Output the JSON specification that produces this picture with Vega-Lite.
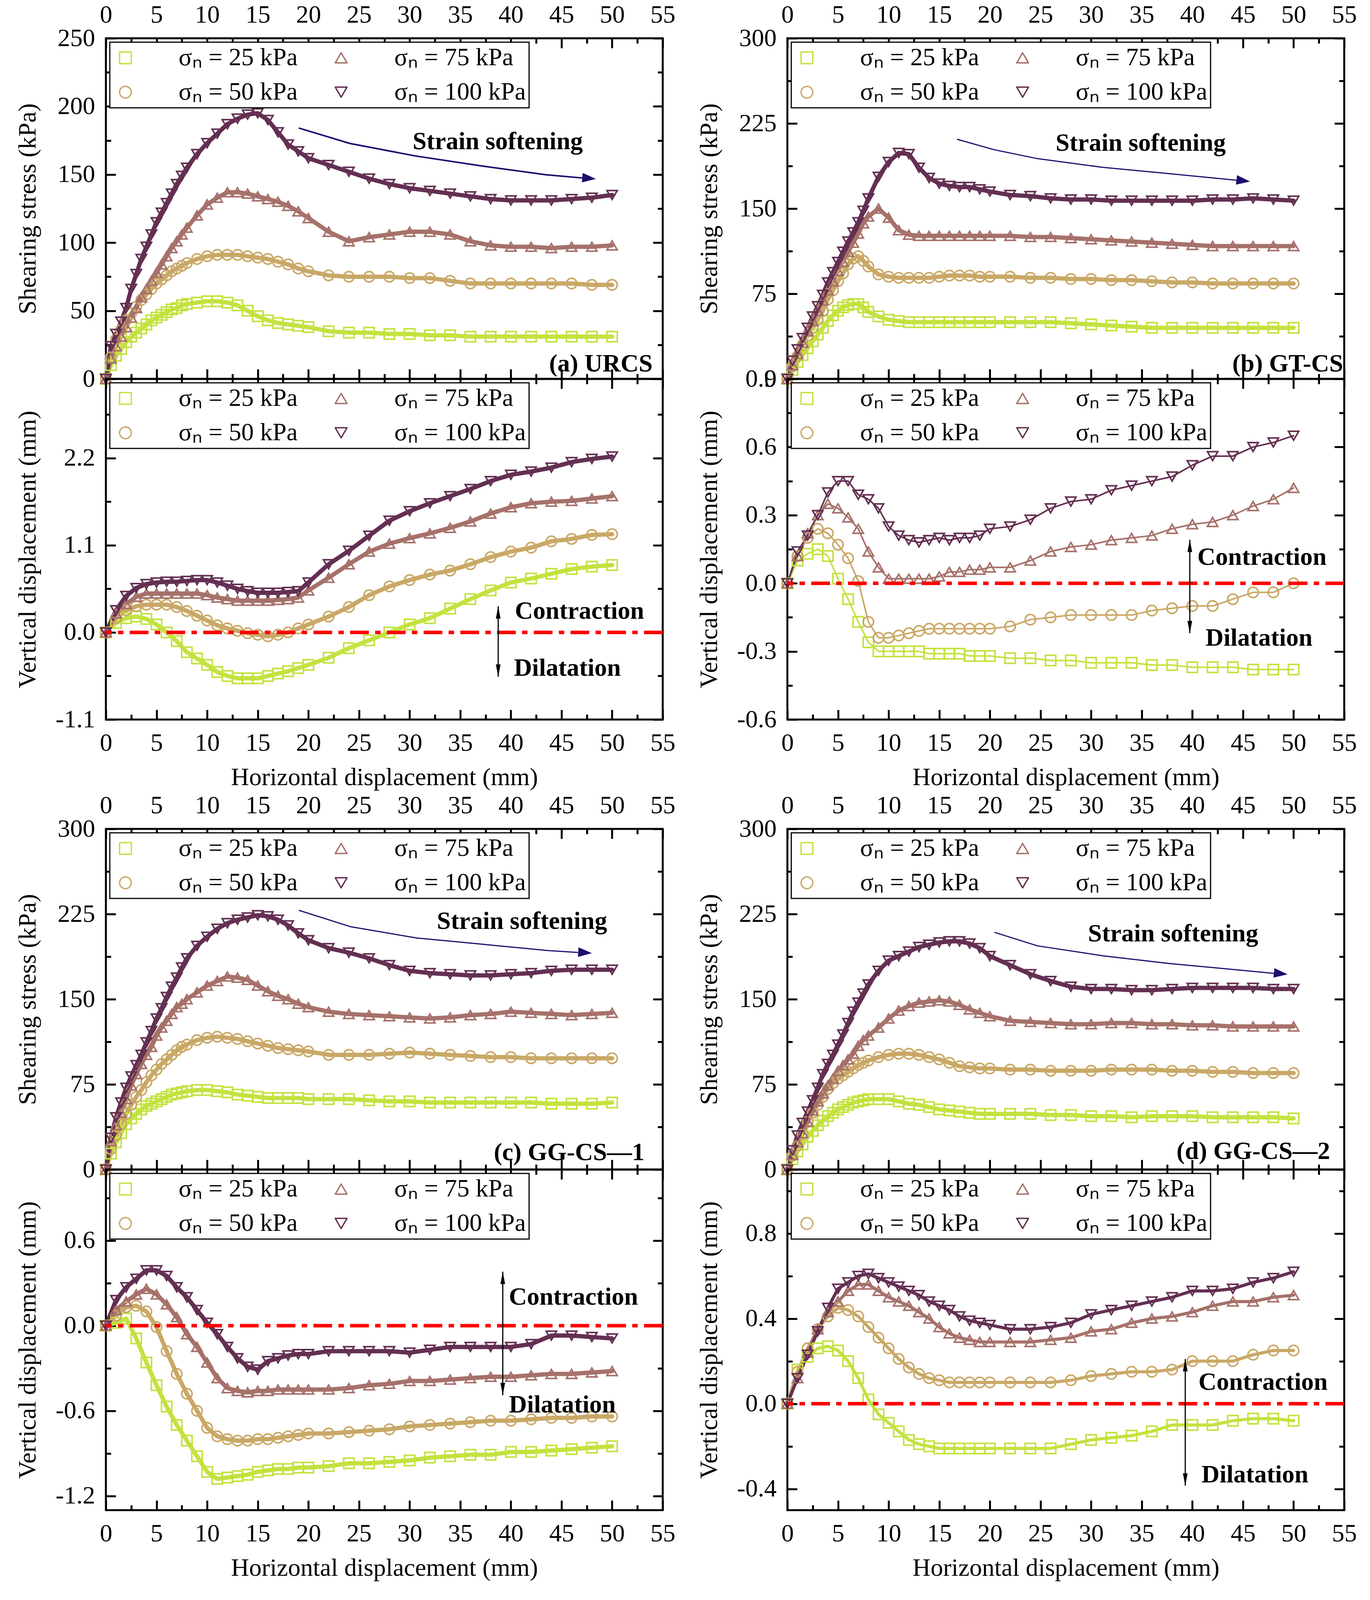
{
"$schema":"https://vega.github.io/schema/vega-lite/v6.json",
"padding":{"left":36,"top":3,"right":10,"bottom":0},
"config":{
 "font":"Liberation Serif",
 "view":{"stroke":"black","strokeWidth":5},
 "axis":{"domain":false,"grid":false,"labelFont":"Liberation Serif","labelFontSize":64,"labelColor":"black","labelPadding":53,"labelFlush":false,"labelOverlap":false,"labelBound":false,"titleFont":"Liberation Serif","titleFontSize":64,"titleFontWeight":"normal","titleColor":"black","tickColor":"black","tickWidth":5,"tickSize":-25},
 "legend":{"orient":"top-left","offset":10,"columns":2,"strokeColor":"black","strokeWidth":3,"fillColor":"white","padding":8,"labelFont":"Liberation Serif","labelFontSize":64,"labelColor":"black","labelLimit":2000,"symbolSize":900,"symbolStrokeWidth":3.5,"labelOffset":104,"columnPadding":79,"rowPadding":24},
 "line":{"strokeJoin":"round","strokeCap":"round"},
 "text":{"font":"Liberation Serif","fontSize":64,"fontWeight":"bold","color":"black"},
 "locale":{"number":{"decimal":".","thousands":",","grouping":[3],"currency":["$",""],"minus":"-"}}
},
"datasets":{
"a1":[
{"n":"25","x":0,"y":0},{"n":"25","x":0.5,"y":10},{"n":"25","x":1,"y":17},{"n":"25","x":1.5,"y":22},{"n":"25","x":2,"y":27},{"n":"25","x":2.5,"y":31},{"n":"25","x":3,"y":34},{"n":"25","x":3.5,"y":37},{"n":"25","x":4,"y":40},{"n":"25","x":4.5,"y":43},{"n":"25","x":5,"y":45},{"n":"25","x":5.5,"y":47},{"n":"25","x":6,"y":49},{"n":"25","x":6.5,"y":51},{"n":"25","x":7,"y":52},{"n":"25","x":7.5,"y":54},{"n":"25","x":8,"y":55},{"n":"25","x":9,"y":56},{"n":"25","x":10,"y":57},{"n":"25","x":11,"y":57},{"n":"25","x":12,"y":56},{"n":"25","x":13,"y":54},{"n":"25","x":14,"y":50},{"n":"25","x":15,"y":46},{"n":"25","x":16,"y":43},{"n":"25","x":17,"y":41},{"n":"25","x":18,"y":40},{"n":"25","x":19,"y":39},{"n":"25","x":20,"y":38},{"n":"25","x":22,"y":35},{"n":"25","x":24,"y":34},{"n":"25","x":26,"y":34},{"n":"25","x":28,"y":33},{"n":"25","x":30,"y":33},{"n":"25","x":32,"y":32},{"n":"25","x":34,"y":32},{"n":"25","x":36,"y":31},{"n":"25","x":38,"y":31},{"n":"25","x":40,"y":31},{"n":"25","x":42,"y":31},{"n":"25","x":44,"y":31},{"n":"25","x":46,"y":31},{"n":"25","x":48,"y":31},{"n":"25","x":50,"y":31},
{"n":"50","x":0,"y":0},{"n":"50","x":0.5,"y":16},{"n":"50","x":1,"y":29},{"n":"50","x":1.5,"y":36},{"n":"50","x":2,"y":43},{"n":"50","x":2.5,"y":48},{"n":"50","x":3,"y":53},{"n":"50","x":3.5,"y":58},{"n":"50","x":4,"y":62},{"n":"50","x":4.5,"y":66},{"n":"50","x":5,"y":70},{"n":"50","x":5.5,"y":73},{"n":"50","x":6,"y":76},{"n":"50","x":6.5,"y":79},{"n":"50","x":7,"y":81},{"n":"50","x":7.5,"y":83},{"n":"50","x":8,"y":85},{"n":"50","x":9,"y":88},{"n":"50","x":10,"y":90},{"n":"50","x":11,"y":91},{"n":"50","x":12,"y":91},{"n":"50","x":13,"y":91},{"n":"50","x":14,"y":90},{"n":"50","x":15,"y":89},{"n":"50","x":16,"y":88},{"n":"50","x":17,"y":86},{"n":"50","x":18,"y":84},{"n":"50","x":19,"y":81},{"n":"50","x":20,"y":79},{"n":"50","x":22,"y":76},{"n":"50","x":24,"y":75},{"n":"50","x":26,"y":75},{"n":"50","x":28,"y":75},{"n":"50","x":30,"y":74},{"n":"50","x":32,"y":74},{"n":"50","x":34,"y":72},{"n":"50","x":36,"y":70},{"n":"50","x":38,"y":70},{"n":"50","x":40,"y":70},{"n":"50","x":42,"y":70},{"n":"50","x":44,"y":70},{"n":"50","x":46,"y":70},{"n":"50","x":48,"y":69},{"n":"50","x":50,"y":69},
{"n":"75","x":0,"y":0},{"n":"75","x":0.5,"y":15},{"n":"75","x":1,"y":24},{"n":"75","x":1.5,"y":31},{"n":"75","x":2,"y":38},{"n":"75","x":2.5,"y":45},{"n":"75","x":3,"y":52},{"n":"75","x":3.5,"y":60},{"n":"75","x":4,"y":66},{"n":"75","x":4.5,"y":72},{"n":"75","x":5,"y":78},{"n":"75","x":5.5,"y":84},{"n":"75","x":6,"y":90},{"n":"75","x":6.5,"y":96},{"n":"75","x":7,"y":101},{"n":"75","x":7.5,"y":106},{"n":"75","x":8,"y":111},{"n":"75","x":9,"y":120},{"n":"75","x":10,"y":128},{"n":"75","x":11,"y":133},{"n":"75","x":12,"y":137},{"n":"75","x":13,"y":137},{"n":"75","x":14,"y":136},{"n":"75","x":15,"y":134},{"n":"75","x":16,"y":132},{"n":"75","x":17,"y":130},{"n":"75","x":18,"y":127},{"n":"75","x":19,"y":123},{"n":"75","x":20,"y":118},{"n":"75","x":22,"y":108},{"n":"75","x":24,"y":101},{"n":"75","x":26,"y":104},{"n":"75","x":28,"y":106},{"n":"75","x":30,"y":108},{"n":"75","x":32,"y":108},{"n":"75","x":34,"y":106},{"n":"75","x":36,"y":101},{"n":"75","x":38,"y":98},{"n":"75","x":40,"y":97},{"n":"75","x":42,"y":97},{"n":"75","x":44,"y":96},{"n":"75","x":46,"y":97},{"n":"75","x":48,"y":97},{"n":"75","x":50,"y":98},
{"n":"100","x":0,"y":0},{"n":"100","x":0.5,"y":24},{"n":"100","x":1,"y":33},{"n":"100","x":1.5,"y":42},{"n":"100","x":2,"y":52},{"n":"100","x":2.5,"y":66},{"n":"100","x":3,"y":77},{"n":"100","x":3.5,"y":88},{"n":"100","x":4,"y":97},{"n":"100","x":4.5,"y":106},{"n":"100","x":5,"y":115},{"n":"100","x":5.5,"y":122},{"n":"100","x":6,"y":129},{"n":"100","x":6.5,"y":136},{"n":"100","x":7,"y":143},{"n":"100","x":7.5,"y":149},{"n":"100","x":8,"y":155},{"n":"100","x":9,"y":165},{"n":"100","x":10,"y":173},{"n":"100","x":11,"y":180},{"n":"100","x":12,"y":187},{"n":"100","x":13,"y":191},{"n":"100","x":14,"y":194},{"n":"100","x":15,"y":195},{"n":"100","x":16,"y":190},{"n":"100","x":17,"y":181},{"n":"100","x":18,"y":172},{"n":"100","x":19,"y":167},{"n":"100","x":20,"y":162},{"n":"100","x":22,"y":157},{"n":"100","x":24,"y":152},{"n":"100","x":26,"y":147},{"n":"100","x":28,"y":143},{"n":"100","x":30,"y":140},{"n":"100","x":32,"y":138},{"n":"100","x":34,"y":136},{"n":"100","x":36,"y":134},{"n":"100","x":38,"y":132},{"n":"100","x":40,"y":131},{"n":"100","x":42,"y":131},{"n":"100","x":44,"y":131},{"n":"100","x":46,"y":132},{"n":"100","x":48,"y":133},{"n":"100","x":50,"y":135}
],
"a2":[
{"n":"25","x":0,"y":0},{"n":"25","x":1,"y":0.12},{"n":"25","x":2,"y":0.18},{"n":"25","x":3,"y":0.2},{"n":"25","x":4,"y":0.17},{"n":"25","x":5,"y":0.1},{"n":"25","x":6,"y":0},{"n":"25","x":7,"y":-0.11},{"n":"25","x":8,"y":-0.25},{"n":"25","x":9,"y":-0.33},{"n":"25","x":10,"y":-0.41},{"n":"25","x":11,"y":-0.5},{"n":"25","x":12,"y":-0.55},{"n":"25","x":13,"y":-0.58},{"n":"25","x":14,"y":-0.58},{"n":"25","x":15,"y":-0.58},{"n":"25","x":16,"y":-0.55},{"n":"25","x":17,"y":-0.52},{"n":"25","x":18,"y":-0.49},{"n":"25","x":19,"y":-0.45},{"n":"25","x":20,"y":-0.41},{"n":"25","x":22,"y":-0.32},{"n":"25","x":24,"y":-0.2},{"n":"25","x":26,"y":-0.1},{"n":"25","x":28,"y":0},{"n":"25","x":30,"y":0.1},{"n":"25","x":32,"y":0.18},{"n":"25","x":34,"y":0.3},{"n":"25","x":36,"y":0.42},{"n":"25","x":38,"y":0.53},{"n":"25","x":40,"y":0.63},{"n":"25","x":42,"y":0.68},{"n":"25","x":44,"y":0.74},{"n":"25","x":46,"y":0.8},{"n":"25","x":48,"y":0.83},{"n":"25","x":50,"y":0.85},
{"n":"50","x":0,"y":0},{"n":"50","x":1,"y":0.18},{"n":"50","x":2,"y":0.28},{"n":"50","x":3,"y":0.33},{"n":"50","x":4,"y":0.35},{"n":"50","x":5,"y":0.35},{"n":"50","x":6,"y":0.35},{"n":"50","x":7,"y":0.32},{"n":"50","x":8,"y":0.27},{"n":"50","x":9,"y":0.21},{"n":"50","x":10,"y":0.15},{"n":"50","x":11,"y":0.09},{"n":"50","x":12,"y":0.05},{"n":"50","x":13,"y":0.02},{"n":"50","x":14,"y":-0.01},{"n":"50","x":15,"y":-0.03},{"n":"50","x":16,"y":-0.05},{"n":"50","x":17,"y":-0.03},{"n":"50","x":18,"y":0},{"n":"50","x":19,"y":0.05},{"n":"50","x":20,"y":0.1},{"n":"50","x":22,"y":0.2},{"n":"50","x":24,"y":0.32},{"n":"50","x":26,"y":0.47},{"n":"50","x":28,"y":0.58},{"n":"50","x":30,"y":0.66},{"n":"50","x":32,"y":0.73},{"n":"50","x":34,"y":0.78},{"n":"50","x":36,"y":0.86},{"n":"50","x":38,"y":0.95},{"n":"50","x":40,"y":1.02},{"n":"50","x":42,"y":1.07},{"n":"50","x":44,"y":1.15},{"n":"50","x":46,"y":1.18},{"n":"50","x":48,"y":1.23},{"n":"50","x":50,"y":1.24},
{"n":"75","x":0,"y":0},{"n":"75","x":1,"y":0.24},{"n":"75","x":2,"y":0.36},{"n":"75","x":3,"y":0.45},{"n":"75","x":4,"y":0.49},{"n":"75","x":5,"y":0.49},{"n":"75","x":6,"y":0.49},{"n":"75","x":7,"y":0.49},{"n":"75","x":8,"y":0.49},{"n":"75","x":9,"y":0.49},{"n":"75","x":10,"y":0.47},{"n":"75","x":11,"y":0.44},{"n":"75","x":12,"y":0.42},{"n":"75","x":13,"y":0.4},{"n":"75","x":14,"y":0.4},{"n":"75","x":15,"y":0.4},{"n":"75","x":16,"y":0.4},{"n":"75","x":17,"y":0.41},{"n":"75","x":18,"y":0.42},{"n":"75","x":19,"y":0.44},{"n":"75","x":20,"y":0.53},{"n":"75","x":22,"y":0.69},{"n":"75","x":24,"y":0.86},{"n":"75","x":26,"y":1.02},{"n":"75","x":28,"y":1.12},{"n":"75","x":30,"y":1.19},{"n":"75","x":32,"y":1.25},{"n":"75","x":34,"y":1.32},{"n":"75","x":36,"y":1.4},{"n":"75","x":38,"y":1.5},{"n":"75","x":40,"y":1.58},{"n":"75","x":42,"y":1.63},{"n":"75","x":44,"y":1.65},{"n":"75","x":46,"y":1.66},{"n":"75","x":48,"y":1.69},{"n":"75","x":50,"y":1.72},
{"n":"100","x":0,"y":0},{"n":"100","x":1,"y":0.28},{"n":"100","x":2,"y":0.46},{"n":"100","x":3,"y":0.56},{"n":"100","x":4,"y":0.61},{"n":"100","x":5,"y":0.63},{"n":"100","x":6,"y":0.64},{"n":"100","x":7,"y":0.64},{"n":"100","x":8,"y":0.65},{"n":"100","x":9,"y":0.66},{"n":"100","x":10,"y":0.66},{"n":"100","x":11,"y":0.63},{"n":"100","x":12,"y":0.59},{"n":"100","x":13,"y":0.55},{"n":"100","x":14,"y":0.52},{"n":"100","x":15,"y":0.5},{"n":"100","x":16,"y":0.5},{"n":"100","x":17,"y":0.5},{"n":"100","x":18,"y":0.51},{"n":"100","x":19,"y":0.52},{"n":"100","x":20,"y":0.63},{"n":"100","x":22,"y":0.86},{"n":"100","x":24,"y":1.03},{"n":"100","x":26,"y":1.22},{"n":"100","x":28,"y":1.41},{"n":"100","x":30,"y":1.53},{"n":"100","x":32,"y":1.63},{"n":"100","x":34,"y":1.72},{"n":"100","x":36,"y":1.81},{"n":"100","x":38,"y":1.91},{"n":"100","x":40,"y":1.99},{"n":"100","x":42,"y":2.03},{"n":"100","x":44,"y":2.08},{"n":"100","x":46,"y":2.15},{"n":"100","x":48,"y":2.19},{"n":"100","x":50,"y":2.22}
],
"b1":[
{"n":"25","x":0,"y":0},{"n":"25","x":0.5,"y":8},{"n":"25","x":1,"y":15},{"n":"25","x":1.5,"y":21},{"n":"25","x":2,"y":27},{"n":"25","x":2.5,"y":33},{"n":"25","x":3,"y":39},{"n":"25","x":3.5,"y":45},{"n":"25","x":4,"y":51},{"n":"25","x":4.5,"y":56},{"n":"25","x":5,"y":60},{"n":"25","x":5.5,"y":63},{"n":"25","x":6,"y":65},{"n":"25","x":6.5,"y":66},{"n":"25","x":7,"y":66},{"n":"25","x":7.5,"y":63},{"n":"25","x":8,"y":59},{"n":"25","x":9,"y":55},{"n":"25","x":10,"y":52},{"n":"25","x":11,"y":51},{"n":"25","x":12,"y":50},{"n":"25","x":13,"y":50},{"n":"25","x":14,"y":50},{"n":"25","x":15,"y":50},{"n":"25","x":16,"y":50},{"n":"25","x":17,"y":50},{"n":"25","x":18,"y":50},{"n":"25","x":19,"y":50},{"n":"25","x":20,"y":50},{"n":"25","x":22,"y":50},{"n":"25","x":24,"y":50},{"n":"25","x":26,"y":50},{"n":"25","x":28,"y":49},{"n":"25","x":30,"y":48},{"n":"25","x":32,"y":47},{"n":"25","x":34,"y":46},{"n":"25","x":36,"y":45},{"n":"25","x":38,"y":45},{"n":"25","x":40,"y":45},{"n":"25","x":42,"y":45},{"n":"25","x":44,"y":45},{"n":"25","x":46,"y":45},{"n":"25","x":48,"y":45},{"n":"25","x":50,"y":45},
{"n":"50","x":0,"y":0},{"n":"50","x":0.5,"y":11},{"n":"50","x":1,"y":20},{"n":"50","x":1.5,"y":30},{"n":"50","x":2,"y":38},{"n":"50","x":2.5,"y":45},{"n":"50","x":3,"y":52},{"n":"50","x":3.5,"y":60},{"n":"50","x":4,"y":70},{"n":"50","x":4.5,"y":78},{"n":"50","x":5,"y":86},{"n":"50","x":5.5,"y":93},{"n":"50","x":6,"y":101},{"n":"50","x":6.5,"y":106},{"n":"50","x":7,"y":108},{"n":"50","x":7.5,"y":104},{"n":"50","x":8,"y":99},{"n":"50","x":9,"y":92},{"n":"50","x":10,"y":90},{"n":"50","x":11,"y":89},{"n":"50","x":12,"y":89},{"n":"50","x":13,"y":89},{"n":"50","x":14,"y":89},{"n":"50","x":15,"y":90},{"n":"50","x":16,"y":91},{"n":"50","x":17,"y":91},{"n":"50","x":18,"y":91},{"n":"50","x":19,"y":90},{"n":"50","x":20,"y":90},{"n":"50","x":22,"y":90},{"n":"50","x":24,"y":89},{"n":"50","x":26,"y":89},{"n":"50","x":28,"y":88},{"n":"50","x":30,"y":88},{"n":"50","x":32,"y":87},{"n":"50","x":34,"y":87},{"n":"50","x":36,"y":86},{"n":"50","x":38,"y":85},{"n":"50","x":40,"y":85},{"n":"50","x":42,"y":84},{"n":"50","x":44,"y":84},{"n":"50","x":46,"y":84},{"n":"50","x":48,"y":84},{"n":"50","x":50,"y":84},
{"n":"75","x":0,"y":0},{"n":"75","x":0.5,"y":12},{"n":"75","x":1,"y":22},{"n":"75","x":1.5,"y":32},{"n":"75","x":2,"y":42},{"n":"75","x":2.5,"y":51},{"n":"75","x":3,"y":60},{"n":"75","x":3.5,"y":69},{"n":"75","x":4,"y":78},{"n":"75","x":4.5,"y":86},{"n":"75","x":5,"y":95},{"n":"75","x":5.5,"y":103},{"n":"75","x":6,"y":112},{"n":"75","x":6.5,"y":120},{"n":"75","x":7,"y":128},{"n":"75","x":7.5,"y":137},{"n":"75","x":8,"y":143},{"n":"75","x":9,"y":150},{"n":"75","x":10,"y":142},{"n":"75","x":11,"y":131},{"n":"75","x":12,"y":127},{"n":"75","x":13,"y":126},{"n":"75","x":14,"y":126},{"n":"75","x":15,"y":126},{"n":"75","x":16,"y":126},{"n":"75","x":17,"y":126},{"n":"75","x":18,"y":126},{"n":"75","x":19,"y":126},{"n":"75","x":20,"y":126},{"n":"75","x":22,"y":126},{"n":"75","x":24,"y":125},{"n":"75","x":26,"y":125},{"n":"75","x":28,"y":124},{"n":"75","x":30,"y":123},{"n":"75","x":32,"y":122},{"n":"75","x":34,"y":121},{"n":"75","x":36,"y":120},{"n":"75","x":38,"y":119},{"n":"75","x":40,"y":118},{"n":"75","x":42,"y":117},{"n":"75","x":44,"y":117},{"n":"75","x":46,"y":117},{"n":"75","x":48,"y":117},{"n":"75","x":50,"y":117},
{"n":"100","x":0,"y":0},{"n":"100","x":0.5,"y":16},{"n":"100","x":1,"y":26},{"n":"100","x":1.5,"y":36},{"n":"100","x":2,"y":45},{"n":"100","x":2.5,"y":55},{"n":"100","x":3,"y":64},{"n":"100","x":3.5,"y":74},{"n":"100","x":4,"y":85},{"n":"100","x":4.5,"y":94},{"n":"100","x":5,"y":103},{"n":"100","x":5.5,"y":112},{"n":"100","x":6,"y":121},{"n":"100","x":6.5,"y":129},{"n":"100","x":7,"y":138},{"n":"100","x":7.5,"y":148},{"n":"100","x":8,"y":159},{"n":"100","x":9,"y":178},{"n":"100","x":10,"y":191},{"n":"100","x":11,"y":199},{"n":"100","x":12,"y":198},{"n":"100","x":13,"y":186},{"n":"100","x":14,"y":177},{"n":"100","x":15,"y":172},{"n":"100","x":16,"y":170},{"n":"100","x":17,"y":169},{"n":"100","x":18,"y":169},{"n":"100","x":19,"y":167},{"n":"100","x":20,"y":165},{"n":"100","x":22,"y":162},{"n":"100","x":24,"y":161},{"n":"100","x":26,"y":159},{"n":"100","x":28,"y":158},{"n":"100","x":30,"y":158},{"n":"100","x":32,"y":157},{"n":"100","x":34,"y":157},{"n":"100","x":36,"y":157},{"n":"100","x":38,"y":157},{"n":"100","x":40,"y":157},{"n":"100","x":42,"y":158},{"n":"100","x":44,"y":158},{"n":"100","x":46,"y":159},{"n":"100","x":48,"y":158},{"n":"100","x":50,"y":157}
],
"b2":[
{"n":"25","x":0,"y":0},{"n":"25","x":1,"y":0.1},{"n":"25","x":2,"y":0.13},{"n":"25","x":3,"y":0.15},{"n":"25","x":4,"y":0.12},{"n":"25","x":5,"y":0.02},{"n":"25","x":6,"y":-0.07},{"n":"25","x":7,"y":-0.17},{"n":"25","x":8,"y":-0.26},{"n":"25","x":9,"y":-0.3},{"n":"25","x":10,"y":-0.3},{"n":"25","x":11,"y":-0.3},{"n":"25","x":12,"y":-0.3},{"n":"25","x":13,"y":-0.3},{"n":"25","x":14,"y":-0.31},{"n":"25","x":15,"y":-0.31},{"n":"25","x":16,"y":-0.31},{"n":"25","x":17,"y":-0.31},{"n":"25","x":18,"y":-0.32},{"n":"25","x":19,"y":-0.32},{"n":"25","x":20,"y":-0.32},{"n":"25","x":22,"y":-0.33},{"n":"25","x":24,"y":-0.33},{"n":"25","x":26,"y":-0.34},{"n":"25","x":28,"y":-0.34},{"n":"25","x":30,"y":-0.35},{"n":"25","x":32,"y":-0.35},{"n":"25","x":34,"y":-0.35},{"n":"25","x":36,"y":-0.36},{"n":"25","x":38,"y":-0.36},{"n":"25","x":40,"y":-0.37},{"n":"25","x":42,"y":-0.37},{"n":"25","x":44,"y":-0.37},{"n":"25","x":46,"y":-0.38},{"n":"25","x":48,"y":-0.38},{"n":"25","x":50,"y":-0.38},
{"n":"50","x":0,"y":0},{"n":"50","x":1,"y":0.12},{"n":"50","x":2,"y":0.2},{"n":"50","x":3,"y":0.24},{"n":"50","x":4,"y":0.22},{"n":"50","x":5,"y":0.17},{"n":"50","x":6,"y":0.11},{"n":"50","x":7,"y":0.01},{"n":"50","x":8,"y":-0.17},{"n":"50","x":9,"y":-0.24},{"n":"50","x":10,"y":-0.24},{"n":"50","x":11,"y":-0.23},{"n":"50","x":12,"y":-0.22},{"n":"50","x":13,"y":-0.21},{"n":"50","x":14,"y":-0.2},{"n":"50","x":15,"y":-0.2},{"n":"50","x":16,"y":-0.2},{"n":"50","x":17,"y":-0.2},{"n":"50","x":18,"y":-0.2},{"n":"50","x":19,"y":-0.2},{"n":"50","x":20,"y":-0.2},{"n":"50","x":22,"y":-0.19},{"n":"50","x":24,"y":-0.16},{"n":"50","x":26,"y":-0.15},{"n":"50","x":28,"y":-0.14},{"n":"50","x":30,"y":-0.14},{"n":"50","x":32,"y":-0.14},{"n":"50","x":34,"y":-0.14},{"n":"50","x":36,"y":-0.12},{"n":"50","x":38,"y":-0.11},{"n":"50","x":40,"y":-0.1},{"n":"50","x":42,"y":-0.1},{"n":"50","x":44,"y":-0.07},{"n":"50","x":46,"y":-0.04},{"n":"50","x":48,"y":-0.04},{"n":"50","x":50,"y":0},
{"n":"75","x":0,"y":0},{"n":"75","x":1,"y":0.12},{"n":"75","x":2,"y":0.22},{"n":"75","x":3,"y":0.3},{"n":"75","x":4,"y":0.35},{"n":"75","x":5,"y":0.33},{"n":"75","x":6,"y":0.29},{"n":"75","x":7,"y":0.24},{"n":"75","x":8,"y":0.14},{"n":"75","x":9,"y":0.07},{"n":"75","x":10,"y":0.02},{"n":"75","x":11,"y":0.02},{"n":"75","x":12,"y":0.02},{"n":"75","x":13,"y":0.02},{"n":"75","x":14,"y":0.02},{"n":"75","x":15,"y":0.03},{"n":"75","x":16,"y":0.05},{"n":"75","x":17,"y":0.05},{"n":"75","x":18,"y":0.06},{"n":"75","x":19,"y":0.06},{"n":"75","x":20,"y":0.07},{"n":"75","x":22,"y":0.07},{"n":"75","x":24,"y":0.1},{"n":"75","x":26,"y":0.14},{"n":"75","x":28,"y":0.16},{"n":"75","x":30,"y":0.17},{"n":"75","x":32,"y":0.19},{"n":"75","x":34,"y":0.2},{"n":"75","x":36,"y":0.21},{"n":"75","x":38,"y":0.24},{"n":"75","x":40,"y":0.26},{"n":"75","x":42,"y":0.27},{"n":"75","x":44,"y":0.3},{"n":"75","x":46,"y":0.34},{"n":"75","x":48,"y":0.37},{"n":"75","x":50,"y":0.42},
{"n":"100","x":0,"y":0},{"n":"100","x":1,"y":0.14},{"n":"100","x":2,"y":0.21},{"n":"100","x":3,"y":0.3},{"n":"100","x":4,"y":0.4},{"n":"100","x":5,"y":0.45},{"n":"100","x":6,"y":0.45},{"n":"100","x":7,"y":0.39},{"n":"100","x":8,"y":0.37},{"n":"100","x":9,"y":0.33},{"n":"100","x":10,"y":0.25},{"n":"100","x":11,"y":0.21},{"n":"100","x":12,"y":0.19},{"n":"100","x":13,"y":0.18},{"n":"100","x":14,"y":0.19},{"n":"100","x":15,"y":0.2},{"n":"100","x":16,"y":0.19},{"n":"100","x":17,"y":0.2},{"n":"100","x":18,"y":0.2},{"n":"100","x":19,"y":0.21},{"n":"100","x":20,"y":0.24},{"n":"100","x":22,"y":0.25},{"n":"100","x":24,"y":0.28},{"n":"100","x":26,"y":0.33},{"n":"100","x":28,"y":0.36},{"n":"100","x":30,"y":0.37},{"n":"100","x":32,"y":0.41},{"n":"100","x":34,"y":0.43},{"n":"100","x":36,"y":0.45},{"n":"100","x":38,"y":0.47},{"n":"100","x":40,"y":0.52},{"n":"100","x":42,"y":0.56},{"n":"100","x":44,"y":0.56},{"n":"100","x":46,"y":0.6},{"n":"100","x":48,"y":0.62},{"n":"100","x":50,"y":0.65}
],
"c1":[
{"n":"25","x":0,"y":0},{"n":"25","x":0.5,"y":14},{"n":"25","x":1,"y":24},{"n":"25","x":1.5,"y":32},{"n":"25","x":2,"y":40},{"n":"25","x":2.5,"y":45},{"n":"25","x":3,"y":49},{"n":"25","x":3.5,"y":53},{"n":"25","x":4,"y":56},{"n":"25","x":4.5,"y":58},{"n":"25","x":5,"y":60},{"n":"25","x":5.5,"y":62},{"n":"25","x":6,"y":64},{"n":"25","x":6.5,"y":66},{"n":"25","x":7,"y":67},{"n":"25","x":7.5,"y":68},{"n":"25","x":8,"y":69},{"n":"25","x":9,"y":70},{"n":"25","x":10,"y":70},{"n":"25","x":11,"y":69},{"n":"25","x":12,"y":68},{"n":"25","x":13,"y":66},{"n":"25","x":14,"y":65},{"n":"25","x":15,"y":64},{"n":"25","x":16,"y":63},{"n":"25","x":17,"y":63},{"n":"25","x":18,"y":63},{"n":"25","x":19,"y":63},{"n":"25","x":20,"y":62},{"n":"25","x":22,"y":62},{"n":"25","x":24,"y":62},{"n":"25","x":26,"y":61},{"n":"25","x":28,"y":60},{"n":"25","x":30,"y":60},{"n":"25","x":32,"y":59},{"n":"25","x":34,"y":59},{"n":"25","x":36,"y":59},{"n":"25","x":38,"y":59},{"n":"25","x":40,"y":59},{"n":"25","x":42,"y":59},{"n":"25","x":44,"y":58},{"n":"25","x":46,"y":58},{"n":"25","x":48,"y":58},{"n":"25","x":50,"y":59},
{"n":"50","x":0,"y":0},{"n":"50","x":0.5,"y":18},{"n":"50","x":1,"y":30},{"n":"50","x":1.5,"y":40},{"n":"50","x":2,"y":49},{"n":"50","x":2.5,"y":57},{"n":"50","x":3,"y":64},{"n":"50","x":3.5,"y":70},{"n":"50","x":4,"y":77},{"n":"50","x":4.5,"y":83},{"n":"50","x":5,"y":88},{"n":"50","x":5.5,"y":93},{"n":"50","x":6,"y":97},{"n":"50","x":6.5,"y":101},{"n":"50","x":7,"y":105},{"n":"50","x":7.5,"y":108},{"n":"50","x":8,"y":110},{"n":"50","x":9,"y":114},{"n":"50","x":10,"y":116},{"n":"50","x":11,"y":117},{"n":"50","x":12,"y":116},{"n":"50","x":13,"y":115},{"n":"50","x":14,"y":113},{"n":"50","x":15,"y":111},{"n":"50","x":16,"y":109},{"n":"50","x":17,"y":107},{"n":"50","x":18,"y":106},{"n":"50","x":19,"y":105},{"n":"50","x":20,"y":104},{"n":"50","x":22,"y":101},{"n":"50","x":24,"y":101},{"n":"50","x":26,"y":101},{"n":"50","x":28,"y":102},{"n":"50","x":30,"y":103},{"n":"50","x":32,"y":102},{"n":"50","x":34,"y":101},{"n":"50","x":36,"y":100},{"n":"50","x":38,"y":99},{"n":"50","x":40,"y":99},{"n":"50","x":42,"y":98},{"n":"50","x":44,"y":98},{"n":"50","x":46,"y":98},{"n":"50","x":48,"y":98},{"n":"50","x":50,"y":98},
{"n":"75","x":0,"y":0},{"n":"75","x":0.5,"y":25},{"n":"75","x":1,"y":39},{"n":"75","x":1.5,"y":50},{"n":"75","x":2,"y":62},{"n":"75","x":2.5,"y":74},{"n":"75","x":3,"y":84},{"n":"75","x":3.5,"y":93},{"n":"75","x":4,"y":101},{"n":"75","x":4.5,"y":108},{"n":"75","x":5,"y":118},{"n":"75","x":5.5,"y":125},{"n":"75","x":6,"y":131},{"n":"75","x":6.5,"y":137},{"n":"75","x":7,"y":143},{"n":"75","x":7.5,"y":146},{"n":"75","x":8,"y":150},{"n":"75","x":9,"y":156},{"n":"75","x":10,"y":162},{"n":"75","x":11,"y":166},{"n":"75","x":12,"y":170},{"n":"75","x":13,"y":169},{"n":"75","x":14,"y":167},{"n":"75","x":15,"y":162},{"n":"75","x":16,"y":157},{"n":"75","x":17,"y":153},{"n":"75","x":18,"y":150},{"n":"75","x":19,"y":146},{"n":"75","x":20,"y":143},{"n":"75","x":22,"y":139},{"n":"75","x":24,"y":137},{"n":"75","x":26,"y":136},{"n":"75","x":28,"y":135},{"n":"75","x":30,"y":134},{"n":"75","x":32,"y":133},{"n":"75","x":34,"y":134},{"n":"75","x":36,"y":136},{"n":"75","x":38,"y":137},{"n":"75","x":40,"y":139},{"n":"75","x":42,"y":138},{"n":"75","x":44,"y":137},{"n":"75","x":46,"y":136},{"n":"75","x":48,"y":137},{"n":"75","x":50,"y":138},
{"n":"100","x":0,"y":0},{"n":"100","x":0.5,"y":28},{"n":"100","x":1,"y":46},{"n":"100","x":1.5,"y":59},{"n":"100","x":2,"y":72},{"n":"100","x":2.5,"y":82},{"n":"100","x":3,"y":92},{"n":"100","x":3.5,"y":101},{"n":"100","x":4,"y":112},{"n":"100","x":4.5,"y":122},{"n":"100","x":5,"y":133},{"n":"100","x":5.5,"y":142},{"n":"100","x":6,"y":152},{"n":"100","x":6.5,"y":161},{"n":"100","x":7,"y":169},{"n":"100","x":7.5,"y":178},{"n":"100","x":8,"y":186},{"n":"100","x":9,"y":197},{"n":"100","x":10,"y":205},{"n":"100","x":11,"y":212},{"n":"100","x":12,"y":217},{"n":"100","x":13,"y":220},{"n":"100","x":14,"y":222},{"n":"100","x":15,"y":224},{"n":"100","x":16,"y":223},{"n":"100","x":17,"y":220},{"n":"100","x":18,"y":215},{"n":"100","x":19,"y":208},{"n":"100","x":20,"y":202},{"n":"100","x":22,"y":195},{"n":"100","x":24,"y":191},{"n":"100","x":26,"y":186},{"n":"100","x":28,"y":180},{"n":"100","x":30,"y":175},{"n":"100","x":32,"y":173},{"n":"100","x":34,"y":172},{"n":"100","x":36,"y":171},{"n":"100","x":38,"y":171},{"n":"100","x":40,"y":172},{"n":"100","x":42,"y":173},{"n":"100","x":44,"y":175},{"n":"100","x":46,"y":176},{"n":"100","x":48,"y":176},{"n":"100","x":50,"y":176}
],
"c2":[
{"n":"25","x":0,"y":0},{"n":"25","x":1,"y":0.02},{"n":"25","x":2,"y":0.05},{"n":"25","x":3,"y":-0.09},{"n":"25","x":4,"y":-0.26},{"n":"25","x":5,"y":-0.42},{"n":"25","x":6,"y":-0.57},{"n":"25","x":7,"y":-0.7},{"n":"25","x":8,"y":-0.81},{"n":"25","x":9,"y":-0.92},{"n":"25","x":10,"y":-1.03},{"n":"25","x":11,"y":-1.08},{"n":"25","x":12,"y":-1.07},{"n":"25","x":13,"y":-1.06},{"n":"25","x":14,"y":-1.05},{"n":"25","x":15,"y":-1.03},{"n":"25","x":16,"y":-1.02},{"n":"25","x":17,"y":-1.01},{"n":"25","x":18,"y":-1.01},{"n":"25","x":19,"y":-1},{"n":"25","x":20,"y":-1},{"n":"25","x":22,"y":-0.99},{"n":"25","x":24,"y":-0.97},{"n":"25","x":26,"y":-0.97},{"n":"25","x":28,"y":-0.96},{"n":"25","x":30,"y":-0.95},{"n":"25","x":32,"y":-0.93},{"n":"25","x":34,"y":-0.92},{"n":"25","x":36,"y":-0.91},{"n":"25","x":38,"y":-0.91},{"n":"25","x":40,"y":-0.89},{"n":"25","x":42,"y":-0.89},{"n":"25","x":44,"y":-0.88},{"n":"25","x":46,"y":-0.87},{"n":"25","x":48,"y":-0.86},{"n":"25","x":50,"y":-0.85},
{"n":"50","x":0,"y":0},{"n":"50","x":1,"y":0.07},{"n":"50","x":2,"y":0.13},{"n":"50","x":3,"y":0.14},{"n":"50","x":4,"y":0.1},{"n":"50","x":5,"y":-0.01},{"n":"50","x":6,"y":-0.18},{"n":"50","x":7,"y":-0.34},{"n":"50","x":8,"y":-0.48},{"n":"50","x":9,"y":-0.6},{"n":"50","x":10,"y":-0.72},{"n":"50","x":11,"y":-0.78},{"n":"50","x":12,"y":-0.8},{"n":"50","x":13,"y":-0.81},{"n":"50","x":14,"y":-0.81},{"n":"50","x":15,"y":-0.8},{"n":"50","x":16,"y":-0.8},{"n":"50","x":17,"y":-0.79},{"n":"50","x":18,"y":-0.78},{"n":"50","x":19,"y":-0.77},{"n":"50","x":20,"y":-0.76},{"n":"50","x":22,"y":-0.76},{"n":"50","x":24,"y":-0.75},{"n":"50","x":26,"y":-0.74},{"n":"50","x":28,"y":-0.73},{"n":"50","x":30,"y":-0.71},{"n":"50","x":32,"y":-0.7},{"n":"50","x":34,"y":-0.69},{"n":"50","x":36,"y":-0.68},{"n":"50","x":38,"y":-0.67},{"n":"50","x":40,"y":-0.67},{"n":"50","x":42,"y":-0.66},{"n":"50","x":44,"y":-0.65},{"n":"50","x":46,"y":-0.65},{"n":"50","x":48,"y":-0.64},{"n":"50","x":50,"y":-0.64},
{"n":"75","x":0,"y":0},{"n":"75","x":1,"y":0.11},{"n":"75","x":2,"y":0.17},{"n":"75","x":3,"y":0.22},{"n":"75","x":4,"y":0.26},{"n":"75","x":5,"y":0.22},{"n":"75","x":6,"y":0.15},{"n":"75","x":7,"y":0.06},{"n":"75","x":8,"y":-0.06},{"n":"75","x":9,"y":-0.15},{"n":"75","x":10,"y":-0.26},{"n":"75","x":11,"y":-0.37},{"n":"75","x":12,"y":-0.44},{"n":"75","x":13,"y":-0.46},{"n":"75","x":14,"y":-0.47},{"n":"75","x":15,"y":-0.46},{"n":"75","x":16,"y":-0.46},{"n":"75","x":17,"y":-0.45},{"n":"75","x":18,"y":-0.45},{"n":"75","x":19,"y":-0.45},{"n":"75","x":20,"y":-0.45},{"n":"75","x":22,"y":-0.45},{"n":"75","x":24,"y":-0.44},{"n":"75","x":26,"y":-0.42},{"n":"75","x":28,"y":-0.41},{"n":"75","x":30,"y":-0.39},{"n":"75","x":32,"y":-0.39},{"n":"75","x":34,"y":-0.38},{"n":"75","x":36,"y":-0.37},{"n":"75","x":38,"y":-0.36},{"n":"75","x":40,"y":-0.36},{"n":"75","x":42,"y":-0.35},{"n":"75","x":44,"y":-0.34},{"n":"75","x":46,"y":-0.34},{"n":"75","x":48,"y":-0.33},{"n":"75","x":50,"y":-0.32},
{"n":"100","x":0,"y":0},{"n":"100","x":1,"y":0.18},{"n":"100","x":2,"y":0.27},{"n":"100","x":3,"y":0.33},{"n":"100","x":4,"y":0.39},{"n":"100","x":5,"y":0.39},{"n":"100","x":6,"y":0.35},{"n":"100","x":7,"y":0.27},{"n":"100","x":8,"y":0.2},{"n":"100","x":9,"y":0.11},{"n":"100","x":10,"y":0.02},{"n":"100","x":11,"y":-0.06},{"n":"100","x":12,"y":-0.15},{"n":"100","x":13,"y":-0.23},{"n":"100","x":14,"y":-0.29},{"n":"100","x":15,"y":-0.31},{"n":"100","x":16,"y":-0.25},{"n":"100","x":17,"y":-0.23},{"n":"100","x":18,"y":-0.21},{"n":"100","x":19,"y":-0.2},{"n":"100","x":20,"y":-0.2},{"n":"100","x":22,"y":-0.18},{"n":"100","x":24,"y":-0.18},{"n":"100","x":26,"y":-0.18},{"n":"100","x":28,"y":-0.18},{"n":"100","x":30,"y":-0.19},{"n":"100","x":32,"y":-0.17},{"n":"100","x":34,"y":-0.15},{"n":"100","x":36,"y":-0.15},{"n":"100","x":38,"y":-0.15},{"n":"100","x":40,"y":-0.15},{"n":"100","x":42,"y":-0.13},{"n":"100","x":44,"y":-0.07},{"n":"100","x":46,"y":-0.07},{"n":"100","x":48,"y":-0.08},{"n":"100","x":50,"y":-0.09}
],
"d1":[
{"n":"25","x":0,"y":0},{"n":"25","x":0.5,"y":9},{"n":"25","x":1,"y":16},{"n":"25","x":1.5,"y":22},{"n":"25","x":2,"y":29},{"n":"25","x":2.5,"y":34},{"n":"25","x":3,"y":39},{"n":"25","x":3.5,"y":43},{"n":"25","x":4,"y":47},{"n":"25","x":4.5,"y":50},{"n":"25","x":5,"y":53},{"n":"25","x":5.5,"y":55},{"n":"25","x":6,"y":57},{"n":"25","x":6.5,"y":59},{"n":"25","x":7,"y":60},{"n":"25","x":7.5,"y":61},{"n":"25","x":8,"y":62},{"n":"25","x":9,"y":62},{"n":"25","x":10,"y":62},{"n":"25","x":11,"y":60},{"n":"25","x":12,"y":58},{"n":"25","x":13,"y":57},{"n":"25","x":14,"y":55},{"n":"25","x":15,"y":53},{"n":"25","x":16,"y":52},{"n":"25","x":17,"y":51},{"n":"25","x":18,"y":50},{"n":"25","x":19,"y":49},{"n":"25","x":20,"y":49},{"n":"25","x":22,"y":49},{"n":"25","x":24,"y":49},{"n":"25","x":26,"y":48},{"n":"25","x":28,"y":48},{"n":"25","x":30,"y":47},{"n":"25","x":32,"y":47},{"n":"25","x":34,"y":46},{"n":"25","x":36,"y":47},{"n":"25","x":38,"y":47},{"n":"25","x":40,"y":47},{"n":"25","x":42,"y":46},{"n":"25","x":44,"y":46},{"n":"25","x":46,"y":46},{"n":"25","x":48,"y":46},{"n":"25","x":50,"y":45},
{"n":"50","x":0,"y":0},{"n":"50","x":0.5,"y":12},{"n":"50","x":1,"y":21},{"n":"50","x":1.5,"y":31},{"n":"50","x":2,"y":42},{"n":"50","x":2.5,"y":50},{"n":"50","x":3,"y":57},{"n":"50","x":3.5,"y":64},{"n":"50","x":4,"y":71},{"n":"50","x":4.5,"y":76},{"n":"50","x":5,"y":80},{"n":"50","x":5.5,"y":83},{"n":"50","x":6,"y":86},{"n":"50","x":6.5,"y":89},{"n":"50","x":7,"y":92},{"n":"50","x":7.5,"y":94},{"n":"50","x":8,"y":96},{"n":"50","x":9,"y":99},{"n":"50","x":10,"y":101},{"n":"50","x":11,"y":102},{"n":"50","x":12,"y":102},{"n":"50","x":13,"y":101},{"n":"50","x":14,"y":99},{"n":"50","x":15,"y":97},{"n":"50","x":16,"y":94},{"n":"50","x":17,"y":91},{"n":"50","x":18,"y":90},{"n":"50","x":19,"y":89},{"n":"50","x":20,"y":89},{"n":"50","x":22,"y":88},{"n":"50","x":24,"y":88},{"n":"50","x":26,"y":87},{"n":"50","x":28,"y":87},{"n":"50","x":30,"y":87},{"n":"50","x":32,"y":88},{"n":"50","x":34,"y":88},{"n":"50","x":36,"y":88},{"n":"50","x":38,"y":87},{"n":"50","x":40,"y":87},{"n":"50","x":42,"y":86},{"n":"50","x":44,"y":86},{"n":"50","x":46,"y":85},{"n":"50","x":48,"y":85},{"n":"50","x":50,"y":85},
{"n":"75","x":0,"y":0},{"n":"75","x":0.5,"y":13},{"n":"75","x":1,"y":24},{"n":"75","x":1.5,"y":32},{"n":"75","x":2,"y":42},{"n":"75","x":2.5,"y":52},{"n":"75","x":3,"y":60},{"n":"75","x":3.5,"y":67},{"n":"75","x":4,"y":74},{"n":"75","x":4.5,"y":80},{"n":"75","x":5,"y":87},{"n":"75","x":5.5,"y":92},{"n":"75","x":6,"y":97},{"n":"75","x":6.5,"y":102},{"n":"75","x":7,"y":109},{"n":"75","x":7.5,"y":114},{"n":"75","x":8,"y":118},{"n":"75","x":9,"y":125},{"n":"75","x":10,"y":133},{"n":"75","x":11,"y":140},{"n":"75","x":12,"y":144},{"n":"75","x":13,"y":147},{"n":"75","x":14,"y":148},{"n":"75","x":15,"y":149},{"n":"75","x":16,"y":148},{"n":"75","x":17,"y":145},{"n":"75","x":18,"y":141},{"n":"75","x":19,"y":138},{"n":"75","x":20,"y":135},{"n":"75","x":22,"y":131},{"n":"75","x":24,"y":130},{"n":"75","x":26,"y":129},{"n":"75","x":28,"y":128},{"n":"75","x":30,"y":128},{"n":"75","x":32,"y":129},{"n":"75","x":34,"y":129},{"n":"75","x":36,"y":128},{"n":"75","x":38,"y":128},{"n":"75","x":40,"y":127},{"n":"75","x":42,"y":127},{"n":"75","x":44,"y":126},{"n":"75","x":46,"y":126},{"n":"75","x":48,"y":126},{"n":"75","x":50,"y":126},
{"n":"100","x":0,"y":0},{"n":"100","x":0.5,"y":17},{"n":"100","x":1,"y":30},{"n":"100","x":1.5,"y":41},{"n":"100","x":2,"y":51},{"n":"100","x":2.5,"y":61},{"n":"100","x":3,"y":72},{"n":"100","x":3.5,"y":84},{"n":"100","x":4,"y":93},{"n":"100","x":4.5,"y":101},{"n":"100","x":5,"y":110},{"n":"100","x":5.5,"y":119},{"n":"100","x":6,"y":129},{"n":"100","x":6.5,"y":139},{"n":"100","x":7,"y":147},{"n":"100","x":7.5,"y":155},{"n":"100","x":8,"y":163},{"n":"100","x":9,"y":175},{"n":"100","x":10,"y":184},{"n":"100","x":11,"y":188},{"n":"100","x":12,"y":192},{"n":"100","x":13,"y":196},{"n":"100","x":14,"y":198},{"n":"100","x":15,"y":200},{"n":"100","x":16,"y":201},{"n":"100","x":17,"y":201},{"n":"100","x":18,"y":199},{"n":"100","x":19,"y":195},{"n":"100","x":20,"y":188},{"n":"100","x":22,"y":180},{"n":"100","x":24,"y":172},{"n":"100","x":26,"y":166},{"n":"100","x":28,"y":161},{"n":"100","x":30,"y":159},{"n":"100","x":32,"y":159},{"n":"100","x":34,"y":158},{"n":"100","x":36,"y":158},{"n":"100","x":38,"y":159},{"n":"100","x":40,"y":160},{"n":"100","x":42,"y":160},{"n":"100","x":44,"y":160},{"n":"100","x":46,"y":160},{"n":"100","x":48,"y":159},{"n":"100","x":50,"y":159}
],
"d2":[
{"n":"25","x":0,"y":0},{"n":"25","x":1,"y":0.16},{"n":"25","x":2,"y":0.22},{"n":"25","x":3,"y":0.26},{"n":"25","x":4,"y":0.27},{"n":"25","x":5,"y":0.25},{"n":"25","x":6,"y":0.2},{"n":"25","x":7,"y":0.12},{"n":"25","x":8,"y":0.02},{"n":"25","x":9,"y":-0.05},{"n":"25","x":10,"y":-0.09},{"n":"25","x":11,"y":-0.13},{"n":"25","x":12,"y":-0.17},{"n":"25","x":13,"y":-0.19},{"n":"25","x":14,"y":-0.2},{"n":"25","x":15,"y":-0.21},{"n":"25","x":16,"y":-0.21},{"n":"25","x":17,"y":-0.21},{"n":"25","x":18,"y":-0.21},{"n":"25","x":19,"y":-0.21},{"n":"25","x":20,"y":-0.21},{"n":"25","x":22,"y":-0.21},{"n":"25","x":24,"y":-0.21},{"n":"25","x":26,"y":-0.21},{"n":"25","x":28,"y":-0.19},{"n":"25","x":30,"y":-0.17},{"n":"25","x":32,"y":-0.16},{"n":"25","x":34,"y":-0.15},{"n":"25","x":36,"y":-0.13},{"n":"25","x":38,"y":-0.1},{"n":"25","x":40,"y":-0.1},{"n":"25","x":42,"y":-0.1},{"n":"25","x":44,"y":-0.08},{"n":"25","x":46,"y":-0.07},{"n":"25","x":48,"y":-0.07},{"n":"25","x":50,"y":-0.08},
{"n":"50","x":0,"y":0},{"n":"50","x":1,"y":0.15},{"n":"50","x":2,"y":0.26},{"n":"50","x":3,"y":0.35},{"n":"50","x":4,"y":0.41},{"n":"50","x":5,"y":0.45},{"n":"50","x":6,"y":0.44},{"n":"50","x":7,"y":0.41},{"n":"50","x":8,"y":0.36},{"n":"50","x":9,"y":0.31},{"n":"50","x":10,"y":0.26},{"n":"50","x":11,"y":0.21},{"n":"50","x":12,"y":0.17},{"n":"50","x":13,"y":0.14},{"n":"50","x":14,"y":0.12},{"n":"50","x":15,"y":0.11},{"n":"50","x":16,"y":0.1},{"n":"50","x":17,"y":0.1},{"n":"50","x":18,"y":0.1},{"n":"50","x":19,"y":0.1},{"n":"50","x":20,"y":0.1},{"n":"50","x":22,"y":0.1},{"n":"50","x":24,"y":0.1},{"n":"50","x":26,"y":0.1},{"n":"50","x":28,"y":0.11},{"n":"50","x":30,"y":0.13},{"n":"50","x":32,"y":0.14},{"n":"50","x":34,"y":0.15},{"n":"50","x":36,"y":0.15},{"n":"50","x":38,"y":0.16},{"n":"50","x":40,"y":0.2},{"n":"50","x":42,"y":0.2},{"n":"50","x":44,"y":0.2},{"n":"50","x":46,"y":0.23},{"n":"50","x":48,"y":0.25},{"n":"50","x":50,"y":0.25},
{"n":"75","x":0,"y":0},{"n":"75","x":1,"y":0.12},{"n":"75","x":2,"y":0.24},{"n":"75","x":3,"y":0.35},{"n":"75","x":4,"y":0.43},{"n":"75","x":5,"y":0.48},{"n":"75","x":6,"y":0.53},{"n":"75","x":7,"y":0.56},{"n":"75","x":8,"y":0.56},{"n":"75","x":9,"y":0.53},{"n":"75","x":10,"y":0.5},{"n":"75","x":11,"y":0.48},{"n":"75","x":12,"y":0.46},{"n":"75","x":13,"y":0.43},{"n":"75","x":14,"y":0.4},{"n":"75","x":15,"y":0.36},{"n":"75","x":16,"y":0.33},{"n":"75","x":17,"y":0.31},{"n":"75","x":18,"y":0.3},{"n":"75","x":19,"y":0.29},{"n":"75","x":20,"y":0.29},{"n":"75","x":22,"y":0.29},{"n":"75","x":24,"y":0.29},{"n":"75","x":26,"y":0.3},{"n":"75","x":28,"y":0.31},{"n":"75","x":30,"y":0.34},{"n":"75","x":32,"y":0.35},{"n":"75","x":34,"y":0.38},{"n":"75","x":36,"y":0.4},{"n":"75","x":38,"y":0.41},{"n":"75","x":40,"y":0.43},{"n":"75","x":42,"y":0.46},{"n":"75","x":44,"y":0.48},{"n":"75","x":46,"y":0.48},{"n":"75","x":48,"y":0.5},{"n":"75","x":50,"y":0.51},
{"n":"100","x":0,"y":0},{"n":"100","x":1,"y":0.12},{"n":"100","x":2,"y":0.23},{"n":"100","x":3,"y":0.34},{"n":"100","x":4,"y":0.45},{"n":"100","x":5,"y":0.54},{"n":"100","x":6,"y":0.57},{"n":"100","x":7,"y":0.6},{"n":"100","x":8,"y":0.61},{"n":"100","x":9,"y":0.59},{"n":"100","x":10,"y":0.57},{"n":"100","x":11,"y":0.55},{"n":"100","x":12,"y":0.53},{"n":"100","x":13,"y":0.51},{"n":"100","x":14,"y":0.48},{"n":"100","x":15,"y":0.46},{"n":"100","x":16,"y":0.44},{"n":"100","x":17,"y":0.41},{"n":"100","x":18,"y":0.39},{"n":"100","x":19,"y":0.38},{"n":"100","x":20,"y":0.37},{"n":"100","x":22,"y":0.35},{"n":"100","x":24,"y":0.35},{"n":"100","x":26,"y":0.36},{"n":"100","x":28,"y":0.38},{"n":"100","x":30,"y":0.42},{"n":"100","x":32,"y":0.44},{"n":"100","x":34,"y":0.46},{"n":"100","x":36,"y":0.48},{"n":"100","x":38,"y":0.5},{"n":"100","x":40,"y":0.53},{"n":"100","x":42,"y":0.53},{"n":"100","x":44,"y":0.54},{"n":"100","x":46,"y":0.57},{"n":"100","x":48,"y":0.59},{"n":"100","x":50,"y":0.62}
]
},
"columns":2,"spacing":{"row":0,"column":319},"bounds":"flush","align":"each",
"resolve":{"scale":{"color":"independent","shape":"independent"},"legend":{"color":"independent","shape":"independent"}},
"concat":[
{"width":1425,"height":872,"resolve":{"axis":{"x":"independent","y":"independent"}},
"layer":[
{"data":{"name":"a1"},"mark":{"type":"line","strokeWidth":11},"encoding":{"x":{"field":"x","type":"quantitative","scale":{"domain":[0,55],"nice":false,"zero":false},"axis":{"orient":"top","values":[0,5,10,15,20,25,30,35,40,45,50,55],"format":"d","title":null}},"y":{"field":"y","type":"quantitative","scale":{"domain":[0,250],"nice":false,"zero":false},"axis":{"orient":"left","values":[0,50,100,150,200,250],"format":"d","title":"Shearing stress (kPa)","minExtent":120,"maxExtent":120,"titlePadding":48}},"color":{"field":"n","type":"nominal","scale":{"domain":["25","50","75","100"],"range":["#C3E23F","#C9A866","#A6716A","#632F52"]},"legend":{"title":null,"labelExpr":"'σₙ = ' + datum.label + ' kPa'"}}}},
{"data":{"name":"a1"},"mark":{"type":"point","filled":false,"size":700,"strokeWidth":4,"opacity":1},"encoding":{"x":{"field":"x","type":"quantitative","axis":{"orient":"bottom","values":[0,5,10,15,20,25,30,35,40,45,50,55],"labels":false,"title":null}},"y":{"field":"y","type":"quantitative","axis":{"orient":"right","values":[0,50,100,150,200,250],"labels":false,"title":null}},"color":{"field":"n","type":"nominal","scale":{"domain":["25","50","75","100"],"range":["#C3E23F","#C9A866","#A6716A","#632F52"]},"legend":{"title":null,"labelExpr":"'σₙ = ' + datum.label + ' kPa'"}},"shape":{"field":"n","type":"nominal","scale":{"domain":["25","50","75","100"],"range":["square","circle","triangle-up","triangle-down"]},"legend":null}}},
{"data":{"values":[{"x":19.1,"y":184},{"x":24.1,"y":172.8},{"x":30.6,"y":163.6},{"x":37.1,"y":156.3},{"x":43.5,"y":149.8},{"x":47.2,"y":147.4}]},"mark":{"type":"line","color":"#1A0E6E","strokeWidth":4},"encoding":{"x":{"field":"x","type":"quantitative","axis":{"orient":"top","values":[2.5,7.5,12.5,17.5,22.5,27.5,32.5,37.5,42.5,47.5,52.5],"labels":false,"title":null,"tickSize":-13}},"y":{"field":"y","type":"quantitative","axis":{"orient":"left","values":[25,75,125,175,225],"labels":false,"title":null,"tickSize":-13}}}},
{"data":{"values":[{"x":48.4,"y":146.8}]},"mark":{"type":"point","shape":"M0,0L-2,-0.7L-2,0.7Z","filled":true,"color":"#1A0E6E","size":1225,"angle":5,"opacity":1},"encoding":{"x":{"field":"x","type":"quantitative","axis":{"orient":"bottom","values":[2.5,7.5,12.5,17.5,22.5,27.5,32.5,37.5,42.5,47.5,52.5],"labels":false,"title":null,"tickSize":-13}},"y":{"field":"y","type":"quantitative","axis":{"orient":"right","values":[25,75,125,175,225],"labels":false,"title":null,"tickSize":-13}}}},
{"data":{"values":[{"x":38.7,"y":174,"t":"Strain softening"}]},"mark":{"type":"text","align":"center","baseline":"middle"},"encoding":{"x":{"field":"x","type":"quantitative","axis":null},"y":{"field":"y","type":"quantitative","axis":null},"text":{"field":"t","type":"nominal"}}},
{"data":{"values":[{"x":54,"y":5.5,"t":"(a) URCS"}]},"mark":{"type":"text","align":"right","baseline":"alphabetic"},"encoding":{"x":{"field":"x","type":"quantitative","axis":null},"y":{"field":"y","type":"quantitative","axis":null},"text":{"field":"t","type":"nominal"}}}
]},
{"width":1425,"height":872,"resolve":{"axis":{"x":"independent","y":"independent"}},
"layer":[
{"data":{"name":"b1"},"mark":{"type":"line","strokeWidth":11},"encoding":{"x":{"field":"x","type":"quantitative","scale":{"domain":[0,55],"nice":false,"zero":false},"axis":{"orient":"top","values":[0,5,10,15,20,25,30,35,40,45,50,55],"format":"d","title":null}},"y":{"field":"y","type":"quantitative","scale":{"domain":[0,300],"nice":false,"zero":false},"axis":{"orient":"left","values":[0,75,150,225,300],"format":"d","title":"Shearing stress (kPa)","minExtent":120,"maxExtent":120,"titlePadding":48}},"color":{"field":"n","type":"nominal","scale":{"domain":["25","50","75","100"],"range":["#C3E23F","#C9A866","#A6716A","#632F52"]},"legend":{"title":null,"labelExpr":"'σₙ = ' + datum.label + ' kPa'"}}}},
{"data":{"name":"b1"},"mark":{"type":"point","filled":false,"size":700,"strokeWidth":4,"opacity":1},"encoding":{"x":{"field":"x","type":"quantitative","axis":{"orient":"bottom","values":[0,5,10,15,20,25,30,35,40,45,50,55],"labels":false,"title":null}},"y":{"field":"y","type":"quantitative","axis":{"orient":"right","values":[0,75,150,225,300],"labels":false,"title":null}},"color":{"field":"n","type":"nominal","scale":{"domain":["25","50","75","100"],"range":["#C3E23F","#C9A866","#A6716A","#632F52"]},"legend":{"title":null,"labelExpr":"'σₙ = ' + datum.label + ' kPa'"}},"shape":{"field":"n","type":"nominal","scale":{"domain":["25","50","75","100"],"range":["square","circle","triangle-up","triangle-down"]},"legend":null}}},
{"data":{"values":[{"x":16.8,"y":211},{"x":20.4,"y":201.9},{"x":24.7,"y":194},{"x":31.1,"y":186.4},{"x":37.6,"y":180.9},{"x":44.3,"y":175}]},"mark":{"type":"line","color":"#1A0E6E","strokeWidth":3},"encoding":{"x":{"field":"x","type":"quantitative","axis":{"orient":"top","values":[2.5,7.5,12.5,17.5,22.5,27.5,32.5,37.5,42.5,47.5,52.5],"labels":false,"title":null,"tickSize":-13}},"y":{"field":"y","type":"quantitative","axis":{"orient":"left","values":[37.5,112.5,187.5,262.5],"labels":false,"title":null,"tickSize":-13}}}},
{"data":{"values":[{"x":45.7,"y":173.8}]},"mark":{"type":"point","shape":"M0,0L-2,-0.7L-2,0.7Z","filled":true,"color":"#1A0E6E","size":1225,"angle":7,"opacity":1},"encoding":{"x":{"field":"x","type":"quantitative","axis":{"orient":"bottom","values":[2.5,7.5,12.5,17.5,22.5,27.5,32.5,37.5,42.5,47.5,52.5],"labels":false,"title":null,"tickSize":-13}},"y":{"field":"y","type":"quantitative","axis":{"orient":"right","values":[37.5,112.5,187.5,262.5],"labels":false,"title":null,"tickSize":-13}}}},
{"data":{"values":[{"x":34.9,"y":207.6,"t":"Strain softening"}]},"mark":{"type":"text","align":"center","baseline":"middle"},"encoding":{"x":{"field":"x","type":"quantitative","axis":null},"y":{"field":"y","type":"quantitative","axis":null},"text":{"field":"t","type":"nominal"}}},
{"data":{"values":[{"x":54.9,"y":6.6,"t":"(b) GT-CS"}]},"mark":{"type":"text","align":"right","baseline":"alphabetic"},"encoding":{"x":{"field":"x","type":"quantitative","axis":null},"y":{"field":"y","type":"quantitative","axis":null},"text":{"field":"t","type":"nominal"}}}
]},
{"width":1425,"height":872,"resolve":{"axis":{"x":"independent","y":"independent"}},
"layer":[
{"data":{"name":"a2"},"mark":{"type":"line","strokeWidth":11},"encoding":{"x":{"field":"x","type":"quantitative","scale":{"domain":[0,55],"nice":false,"zero":false},"axis":{"orient":"bottom","values":[0,5,10,15,20,25,30,35,40,45,50,55],"format":"d","title":"Horizontal displacement (mm)","minExtent":92,"maxExtent":92,"titlePadding":24}},"y":{"field":"y","type":"quantitative","scale":{"domain":[-1.1,3.2],"nice":false,"zero":false},"axis":{"orient":"left","values":[-1.1,0,1.1,2.2],"format":".1f","title":"Vertical displacement (mm)","minExtent":120,"maxExtent":120,"titlePadding":48}},"color":{"field":"n","type":"nominal","scale":{"domain":["25","50","75","100"],"range":["#C3E23F","#C9A866","#A6716A","#632F52"]},"legend":{"title":null,"labelExpr":"'σₙ = ' + datum.label + ' kPa'"}}}},
{"data":{"name":"a2"},"mark":{"type":"point","filled":false,"size":700,"strokeWidth":4,"opacity":1},"encoding":{"x":{"field":"x","type":"quantitative","axis":{"orient":"top","values":[0,5,10,15,20,25,30,35,40,45,50,55],"labels":false,"title":null}},"y":{"field":"y","type":"quantitative","axis":{"orient":"right","values":[-1.1,0,1.1,2.2],"labels":false,"title":null}},"color":{"field":"n","type":"nominal","scale":{"domain":["25","50","75","100"],"range":["#C3E23F","#C9A866","#A6716A","#632F52"]},"legend":{"title":null,"labelExpr":"'σₙ = ' + datum.label + ' kPa'"}},"shape":{"field":"n","type":"nominal","scale":{"domain":["25","50","75","100"],"range":["square","circle","triangle-up","triangle-down"]},"legend":null}}},
{"data":{"values":[{"y":0}]},"mark":{"type":"rule","color":"#FF0000","strokeWidth":9,"strokeDash":[48,16,14,16]},"encoding":{"y":{"field":"y","type":"quantitative","axis":{"orient":"left","values":[-0.55,0.55,1.65,2.75],"labels":false,"title":null,"tickSize":-13}}}},
{"data":{"values":[{"x":38.75,"y":0.33,"y2":-0.56}]},"mark":{"type":"rule","color":"black","strokeWidth":3},"encoding":{"x":{"field":"x","type":"quantitative","axis":{"orient":"bottom","values":[2.5,7.5,12.5,17.5,22.5,27.5,32.5,37.5,42.5,47.5,52.5],"labels":false,"title":null,"tickSize":-13}},"y":{"field":"y","type":"quantitative","axis":{"orient":"right","values":[-0.55,0.55,1.65,2.75],"labels":false,"title":null,"tickSize":-13}},"y2":{"field":"y2"}}},
{"data":{"values":[{"x":38.75,"y":0.33}]},"mark":{"type":"point","shape":"M0,0L0.38,2H-0.38Z","filled":true,"color":"black","size":1000,"opacity":1},"encoding":{"x":{"field":"x","type":"quantitative","axis":{"orient":"top","values":[2.5,7.5,12.5,17.5,22.5,27.5,32.5,37.5,42.5,47.5,52.5],"labels":false,"title":null,"tickSize":-13}},"y":{"field":"y","type":"quantitative","axis":null}}},
{"data":{"values":[{"x":38.75,"y":-0.56}]},"mark":{"type":"point","shape":"M0,0L0.38,-2H-0.38Z","filled":true,"color":"black","size":1000,"opacity":1},"encoding":{"x":{"field":"x","type":"quantitative","axis":null},"y":{"field":"y","type":"quantitative","axis":null}}},
{"data":{"values":[{"x":40.4,"y":0.264,"t":"Contraction"},{"x":40.3,"y":-0.455,"t":"Dilatation"}]},"mark":{"type":"text","align":"left","baseline":"middle"},"encoding":{"x":{"field":"x","type":"quantitative","axis":null},"y":{"field":"y","type":"quantitative","axis":null},"text":{"field":"t","type":"nominal"}}}
]},
{"width":1425,"height":872,"resolve":{"axis":{"x":"independent","y":"independent"}},
"layer":[
{"data":{"name":"b2"},"mark":{"type":"line","strokeWidth":4},"encoding":{"x":{"field":"x","type":"quantitative","scale":{"domain":[0,55],"nice":false,"zero":false},"axis":{"orient":"bottom","values":[0,5,10,15,20,25,30,35,40,45,50,55],"format":"d","title":"Horizontal displacement (mm)","minExtent":92,"maxExtent":92,"titlePadding":24}},"y":{"field":"y","type":"quantitative","scale":{"domain":[-0.6,0.9],"nice":false,"zero":false},"axis":{"orient":"left","values":[-0.6,-0.3,0,0.3,0.6,0.9],"format":".1f","title":"Vertical displacement (mm)","minExtent":120,"maxExtent":120,"titlePadding":48}},"color":{"field":"n","type":"nominal","scale":{"domain":["25","50","75","100"],"range":["#C3E23F","#C9A866","#A6716A","#632F52"]},"legend":{"title":null,"labelExpr":"'σₙ = ' + datum.label + ' kPa'"}}}},
{"data":{"name":"b2"},"mark":{"type":"point","filled":false,"size":700,"strokeWidth":4,"opacity":1},"encoding":{"x":{"field":"x","type":"quantitative","axis":{"orient":"top","values":[0,5,10,15,20,25,30,35,40,45,50,55],"labels":false,"title":null}},"y":{"field":"y","type":"quantitative","axis":{"orient":"right","values":[-0.6,-0.3,0,0.3,0.6,0.9],"labels":false,"title":null}},"color":{"field":"n","type":"nominal","scale":{"domain":["25","50","75","100"],"range":["#C3E23F","#C9A866","#A6716A","#632F52"]},"legend":{"title":null,"labelExpr":"'σₙ = ' + datum.label + ' kPa'"}},"shape":{"field":"n","type":"nominal","scale":{"domain":["25","50","75","100"],"range":["square","circle","triangle-up","triangle-down"]},"legend":null}}},
{"data":{"values":[{"y":0}]},"mark":{"type":"rule","color":"#FF0000","strokeWidth":9,"strokeDash":[48,16,14,16]},"encoding":{"y":{"field":"y","type":"quantitative","axis":{"orient":"left","values":[-0.45,-0.15,0.15,0.45,0.75],"labels":false,"title":null,"tickSize":-13}}}},
{"data":{"values":[{"x":39.75,"y":0.192,"y2":-0.22}]},"mark":{"type":"rule","color":"black","strokeWidth":3},"encoding":{"x":{"field":"x","type":"quantitative","axis":{"orient":"bottom","values":[2.5,7.5,12.5,17.5,22.5,27.5,32.5,37.5,42.5,47.5,52.5],"labels":false,"title":null,"tickSize":-13}},"y":{"field":"y","type":"quantitative","axis":{"orient":"right","values":[-0.45,-0.15,0.15,0.45,0.75],"labels":false,"title":null,"tickSize":-13}},"y2":{"field":"y2"}}},
{"data":{"values":[{"x":39.75,"y":0.192}]},"mark":{"type":"point","shape":"M0,0L0.38,2H-0.38Z","filled":true,"color":"black","size":1000,"opacity":1},"encoding":{"x":{"field":"x","type":"quantitative","axis":{"orient":"top","values":[2.5,7.5,12.5,17.5,22.5,27.5,32.5,37.5,42.5,47.5,52.5],"labels":false,"title":null,"tickSize":-13}},"y":{"field":"y","type":"quantitative","axis":null}}},
{"data":{"values":[{"x":39.75,"y":-0.22}]},"mark":{"type":"point","shape":"M0,0L0.38,-2H-0.38Z","filled":true,"color":"black","size":1000,"opacity":1},"encoding":{"x":{"field":"x","type":"quantitative","axis":null},"y":{"field":"y","type":"quantitative","axis":null}}},
{"data":{"values":[{"x":40.5,"y":0.114,"t":"Contraction"},{"x":41.3,"y":-0.243,"t":"Dilatation"}]},"mark":{"type":"text","align":"left","baseline":"middle"},"encoding":{"x":{"field":"x","type":"quantitative","axis":null},"y":{"field":"y","type":"quantitative","axis":null},"text":{"field":"t","type":"nominal"}}}
]},
{"width":1425,"height":280,"view":{"stroke":null},"data":{"values":[]},"mark":"point"},
{"width":1425,"height":280,"view":{"stroke":null},"data":{"values":[]},"mark":"point"},
{"width":1425,"height":872,"resolve":{"axis":{"x":"independent","y":"independent"}},
"layer":[
{"data":{"name":"c1"},"mark":{"type":"line","strokeWidth":11},"encoding":{"x":{"field":"x","type":"quantitative","scale":{"domain":[0,55],"nice":false,"zero":false},"axis":{"orient":"top","values":[0,5,10,15,20,25,30,35,40,45,50,55],"format":"d","title":null}},"y":{"field":"y","type":"quantitative","scale":{"domain":[0,300],"nice":false,"zero":false},"axis":{"orient":"left","values":[0,75,150,225,300],"format":"d","title":"Shearing stress (kPa)","minExtent":120,"maxExtent":120,"titlePadding":48}},"color":{"field":"n","type":"nominal","scale":{"domain":["25","50","75","100"],"range":["#C3E23F","#C9A866","#A6716A","#632F52"]},"legend":{"title":null,"labelExpr":"'σₙ = ' + datum.label + ' kPa'"}}}},
{"data":{"name":"c1"},"mark":{"type":"point","filled":false,"size":700,"strokeWidth":4,"opacity":1},"encoding":{"x":{"field":"x","type":"quantitative","axis":{"orient":"bottom","values":[0,5,10,15,20,25,30,35,40,45,50,55],"labels":false,"title":null}},"y":{"field":"y","type":"quantitative","axis":{"orient":"right","values":[0,75,150,225,300],"labels":false,"title":null}},"color":{"field":"n","type":"nominal","scale":{"domain":["25","50","75","100"],"range":["#C3E23F","#C9A866","#A6716A","#632F52"]},"legend":{"title":null,"labelExpr":"'σₙ = ' + datum.label + ' kPa'"}},"shape":{"field":"n","type":"nominal","scale":{"domain":["25","50","75","100"],"range":["square","circle","triangle-up","triangle-down"]},"legend":null}}},
{"data":{"values":[{"x":19.1,"y":228.2},{"x":24.2,"y":213.8},{"x":30.7,"y":203.9},{"x":37.2,"y":198.4},{"x":43.7,"y":192.8},{"x":46.6,"y":191.2}]},"mark":{"type":"line","color":"#1A0E6E","strokeWidth":3},"encoding":{"x":{"field":"x","type":"quantitative","axis":{"orient":"top","values":[2.5,7.5,12.5,17.5,22.5,27.5,32.5,37.5,42.5,47.5,52.5],"labels":false,"title":null,"tickSize":-13}},"y":{"field":"y","type":"quantitative","axis":{"orient":"left","values":[37.5,112.5,187.5,262.5],"labels":false,"title":null,"tickSize":-13}}}},
{"data":{"values":[{"x":48,"y":190.6}]},"mark":{"type":"point","shape":"M0,0L-2,-0.7L-2,0.7Z","filled":true,"color":"#1A0E6E","size":1225,"angle":4,"opacity":1},"encoding":{"x":{"field":"x","type":"quantitative","axis":{"orient":"bottom","values":[2.5,7.5,12.5,17.5,22.5,27.5,32.5,37.5,42.5,47.5,52.5],"labels":false,"title":null,"tickSize":-13}},"y":{"field":"y","type":"quantitative","axis":{"orient":"right","values":[37.5,112.5,187.5,262.5],"labels":false,"title":null,"tickSize":-13}}}},
{"data":{"values":[{"x":41.1,"y":218.5,"t":"Strain softening"}]},"mark":{"type":"text","align":"center","baseline":"middle"},"encoding":{"x":{"field":"x","type":"quantitative","axis":null},"y":{"field":"y","type":"quantitative","axis":null},"text":{"field":"t","type":"nominal"}}},
{"data":{"values":[{"x":53.2,"y":8.3,"t":"(c) GG-CS—1"}]},"mark":{"type":"text","align":"right","baseline":"alphabetic"},"encoding":{"x":{"field":"x","type":"quantitative","axis":null},"y":{"field":"y","type":"quantitative","axis":null},"text":{"field":"t","type":"nominal"}}}
]},
{"width":1425,"height":872,"resolve":{"axis":{"x":"independent","y":"independent"}},
"layer":[
{"data":{"name":"d1"},"mark":{"type":"line","strokeWidth":11},"encoding":{"x":{"field":"x","type":"quantitative","scale":{"domain":[0,55],"nice":false,"zero":false},"axis":{"orient":"top","values":[0,5,10,15,20,25,30,35,40,45,50,55],"format":"d","title":null}},"y":{"field":"y","type":"quantitative","scale":{"domain":[0,300],"nice":false,"zero":false},"axis":{"orient":"left","values":[0,75,150,225,300],"format":"d","title":"Shearing stress (kPa)","minExtent":120,"maxExtent":120,"titlePadding":48}},"color":{"field":"n","type":"nominal","scale":{"domain":["25","50","75","100"],"range":["#C3E23F","#C9A866","#A6716A","#632F52"]},"legend":{"title":null,"labelExpr":"'σₙ = ' + datum.label + ' kPa'"}}}},
{"data":{"name":"d1"},"mark":{"type":"point","filled":false,"size":700,"strokeWidth":4,"opacity":1},"encoding":{"x":{"field":"x","type":"quantitative","axis":{"orient":"bottom","values":[0,5,10,15,20,25,30,35,40,45,50,55],"labels":false,"title":null}},"y":{"field":"y","type":"quantitative","axis":{"orient":"right","values":[0,75,150,225,300],"labels":false,"title":null}},"color":{"field":"n","type":"nominal","scale":{"domain":["25","50","75","100"],"range":["#C3E23F","#C9A866","#A6716A","#632F52"]},"legend":{"title":null,"labelExpr":"'σₙ = ' + datum.label + ' kPa'"}},"shape":{"field":"n","type":"nominal","scale":{"domain":["25","50","75","100"],"range":["square","circle","triangle-up","triangle-down"]},"legend":null}}},
{"data":{"values":[{"x":20.5,"y":208.8},{"x":24.7,"y":197},{"x":31.2,"y":188.2},{"x":37.7,"y":181.5},{"x":44.3,"y":176},{"x":48,"y":172.8}]},"mark":{"type":"line","color":"#1A0E6E","strokeWidth":3},"encoding":{"x":{"field":"x","type":"quantitative","axis":{"orient":"top","values":[2.5,7.5,12.5,17.5,22.5,27.5,32.5,37.5,42.5,47.5,52.5],"labels":false,"title":null,"tickSize":-13}},"y":{"field":"y","type":"quantitative","axis":{"orient":"left","values":[37.5,112.5,187.5,262.5],"labels":false,"title":null,"tickSize":-13}}}},
{"data":{"values":[{"x":49.4,"y":171.9}]},"mark":{"type":"point","shape":"M0,0L-2,-0.7L-2,0.7Z","filled":true,"color":"#1A0E6E","size":1225,"angle":6,"opacity":1},"encoding":{"x":{"field":"x","type":"quantitative","axis":{"orient":"bottom","values":[2.5,7.5,12.5,17.5,22.5,27.5,32.5,37.5,42.5,47.5,52.5],"labels":false,"title":null,"tickSize":-13}},"y":{"field":"y","type":"quantitative","axis":{"orient":"right","values":[37.5,112.5,187.5,262.5],"labels":false,"title":null,"tickSize":-13}}}},
{"data":{"values":[{"x":38.1,"y":207.4,"t":"Strain softening"}]},"mark":{"type":"text","align":"center","baseline":"middle"},"encoding":{"x":{"field":"x","type":"quantitative","axis":null},"y":{"field":"y","type":"quantitative","axis":null},"text":{"field":"t","type":"nominal"}}},
{"data":{"values":[{"x":53.6,"y":9.4,"t":"(d) GG-CS—2"}]},"mark":{"type":"text","align":"right","baseline":"alphabetic"},"encoding":{"x":{"field":"x","type":"quantitative","axis":null},"y":{"field":"y","type":"quantitative","axis":null},"text":{"field":"t","type":"nominal"}}}
]},
{"width":1425,"height":872,"resolve":{"axis":{"x":"independent","y":"independent"}},
"layer":[
{"data":{"name":"c2"},"mark":{"type":"line","strokeWidth":11},"encoding":{"x":{"field":"x","type":"quantitative","scale":{"domain":[0,55],"nice":false,"zero":false},"axis":{"orient":"bottom","values":[0,5,10,15,20,25,30,35,40,45,50,55],"format":"d","title":"Horizontal displacement (mm)","minExtent":92,"maxExtent":92,"titlePadding":24}},"y":{"field":"y","type":"quantitative","scale":{"domain":[-1.3,1.1],"nice":false,"zero":false},"axis":{"orient":"left","values":[-1.2,-0.6,0,0.6],"format":".1f","title":"Vertical displacement (mm)","minExtent":120,"maxExtent":120,"titlePadding":48}},"color":{"field":"n","type":"nominal","scale":{"domain":["25","50","75","100"],"range":["#C3E23F","#C9A866","#A6716A","#632F52"]},"legend":{"title":null,"labelExpr":"'σₙ = ' + datum.label + ' kPa'"}}}},
{"data":{"name":"c2"},"mark":{"type":"point","filled":false,"size":700,"strokeWidth":4,"opacity":1},"encoding":{"x":{"field":"x","type":"quantitative","axis":{"orient":"top","values":[0,5,10,15,20,25,30,35,40,45,50,55],"labels":false,"title":null}},"y":{"field":"y","type":"quantitative","axis":{"orient":"right","values":[-1.2,-0.6,0,0.6],"labels":false,"title":null}},"color":{"field":"n","type":"nominal","scale":{"domain":["25","50","75","100"],"range":["#C3E23F","#C9A866","#A6716A","#632F52"]},"legend":{"title":null,"labelExpr":"'σₙ = ' + datum.label + ' kPa'"}},"shape":{"field":"n","type":"nominal","scale":{"domain":["25","50","75","100"],"range":["square","circle","triangle-up","triangle-down"]},"legend":null}}},
{"data":{"values":[{"y":0}]},"mark":{"type":"rule","color":"#FF0000","strokeWidth":9,"strokeDash":[48,16,14,16]},"encoding":{"y":{"field":"y","type":"quantitative","axis":{"orient":"left","values":[-0.9,-0.3,0.3,0.9],"labels":false,"title":null,"tickSize":-13}}}},
{"data":{"values":[{"x":39.2,"y":0.38,"y2":-0.49}]},"mark":{"type":"rule","color":"black","strokeWidth":3},"encoding":{"x":{"field":"x","type":"quantitative","axis":{"orient":"bottom","values":[2.5,7.5,12.5,17.5,22.5,27.5,32.5,37.5,42.5,47.5,52.5],"labels":false,"title":null,"tickSize":-13}},"y":{"field":"y","type":"quantitative","axis":{"orient":"right","values":[-0.9,-0.3,0.3,0.9],"labels":false,"title":null,"tickSize":-13}},"y2":{"field":"y2"}}},
{"data":{"values":[{"x":39.2,"y":0.38}]},"mark":{"type":"point","shape":"M0,0L0.38,2H-0.38Z","filled":true,"color":"black","size":1000,"opacity":1},"encoding":{"x":{"field":"x","type":"quantitative","axis":{"orient":"top","values":[2.5,7.5,12.5,17.5,22.5,27.5,32.5,37.5,42.5,47.5,52.5],"labels":false,"title":null,"tickSize":-13}},"y":{"field":"y","type":"quantitative","axis":null}}},
{"data":{"values":[{"x":39.2,"y":-0.49}]},"mark":{"type":"point","shape":"M0,0L0.38,-2H-0.38Z","filled":true,"color":"black","size":1000,"opacity":1},"encoding":{"x":{"field":"x","type":"quantitative","axis":null},"y":{"field":"y","type":"quantitative","axis":null}}},
{"data":{"values":[{"x":39.8,"y":0.2,"t":"Contraction"},{"x":39.8,"y":-0.56,"t":"Dilatation"}]},"mark":{"type":"text","align":"left","baseline":"middle"},"encoding":{"x":{"field":"x","type":"quantitative","axis":null},"y":{"field":"y","type":"quantitative","axis":null},"text":{"field":"t","type":"nominal"}}}
]},
{"width":1425,"height":872,"resolve":{"axis":{"x":"independent","y":"independent"}},
"layer":[
{"data":{"name":"d2"},"mark":{"type":"line","strokeWidth":8},"encoding":{"x":{"field":"x","type":"quantitative","scale":{"domain":[0,55],"nice":false,"zero":false},"axis":{"orient":"bottom","values":[0,5,10,15,20,25,30,35,40,45,50,55],"format":"d","title":"Horizontal displacement (mm)","minExtent":92,"maxExtent":92,"titlePadding":24}},"y":{"field":"y","type":"quantitative","scale":{"domain":[-0.5,1.1],"nice":false,"zero":false},"axis":{"orient":"left","values":[-0.4,0,0.4,0.8],"format":".1f","title":"Vertical displacement (mm)","minExtent":120,"maxExtent":120,"titlePadding":48}},"color":{"field":"n","type":"nominal","scale":{"domain":["25","50","75","100"],"range":["#C3E23F","#C9A866","#A6716A","#632F52"]},"legend":{"title":null,"labelExpr":"'σₙ = ' + datum.label + ' kPa'"}}}},
{"data":{"name":"d2"},"mark":{"type":"point","filled":false,"size":700,"strokeWidth":4,"opacity":1},"encoding":{"x":{"field":"x","type":"quantitative","axis":{"orient":"top","values":[0,5,10,15,20,25,30,35,40,45,50,55],"labels":false,"title":null}},"y":{"field":"y","type":"quantitative","axis":{"orient":"right","values":[-0.4,0,0.4,0.8],"labels":false,"title":null}},"color":{"field":"n","type":"nominal","scale":{"domain":["25","50","75","100"],"range":["#C3E23F","#C9A866","#A6716A","#632F52"]},"legend":{"title":null,"labelExpr":"'σₙ = ' + datum.label + ' kPa'"}},"shape":{"field":"n","type":"nominal","scale":{"domain":["25","50","75","100"],"range":["square","circle","triangle-up","triangle-down"]},"legend":null}}},
{"data":{"values":[{"y":0}]},"mark":{"type":"rule","color":"#FF0000","strokeWidth":9,"strokeDash":[48,16,14,16]},"encoding":{"y":{"field":"y","type":"quantitative","axis":{"orient":"left","values":[-0.2,0.2,0.6,1.0],"labels":false,"title":null,"tickSize":-13}}}},
{"data":{"values":[{"x":39.3,"y":0.21,"y2":-0.385}]},"mark":{"type":"rule","color":"black","strokeWidth":3},"encoding":{"x":{"field":"x","type":"quantitative","axis":{"orient":"bottom","values":[2.5,7.5,12.5,17.5,22.5,27.5,32.5,37.5,42.5,47.5,52.5],"labels":false,"title":null,"tickSize":-13}},"y":{"field":"y","type":"quantitative","axis":{"orient":"right","values":[-0.2,0.2,0.6,1.0],"labels":false,"title":null,"tickSize":-13}},"y2":{"field":"y2"}}},
{"data":{"values":[{"x":39.3,"y":0.21}]},"mark":{"type":"point","shape":"M0,0L0.38,2H-0.38Z","filled":true,"color":"black","size":1000,"opacity":1},"encoding":{"x":{"field":"x","type":"quantitative","axis":{"orient":"top","values":[2.5,7.5,12.5,17.5,22.5,27.5,32.5,37.5,42.5,47.5,52.5],"labels":false,"title":null,"tickSize":-13}},"y":{"field":"y","type":"quantitative","axis":null}}},
{"data":{"values":[{"x":39.3,"y":-0.385}]},"mark":{"type":"point","shape":"M0,0L0.38,-2H-0.38Z","filled":true,"color":"black","size":1000,"opacity":1},"encoding":{"x":{"field":"x","type":"quantitative","axis":null},"y":{"field":"y","type":"quantitative","axis":null}}},
{"data":{"values":[{"x":40.6,"y":0.1,"t":"Contraction"},{"x":40.9,"y":-0.335,"t":"Dilatation"}]},"mark":{"type":"text","align":"left","baseline":"middle"},"encoding":{"x":{"field":"x","type":"quantitative","axis":null},"y":{"field":"y","type":"quantitative","axis":null},"text":{"field":"t","type":"nominal"}}}
]}
]
}
